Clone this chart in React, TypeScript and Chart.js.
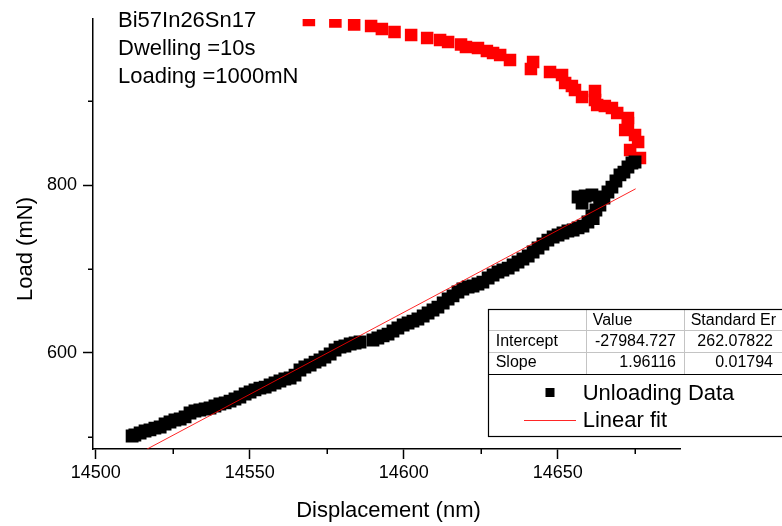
import { useEffect, useRef } from "react";
import { Chart, registerables } from "chart.js";

Chart.register(...registerables);

const FONT = '"Liberation Sans", Arial, Helvetica, sans-serif';

// Unloading data (black squares)
const unloadX = [
  14511.8, 14512.7, 14514.4, 14516.0, 14517.6, 14519.2, 14520.9, 14522.5, 14524.1, 14525.7,
  14527.4, 14529.0, 14530.6, 14532.2, 14533.8, 14535.5, 14537.1, 14538.7, 14540.3, 14542.0,
  14543.6, 14545.2, 14546.8, 14548.5, 14550.1, 14551.7, 14553.3, 14555.0, 14556.6, 14558.2,
  14559.8, 14561.4, 14563.1, 14564.7, 14566.3, 14567.9, 14569.6, 14571.2, 14572.8, 14574.4,
  14576.1, 14577.7, 14579.3, 14580.9, 14582.6, 14584.2, 14585.8, 14590.0, 14591.6, 14593.3,
  14594.9, 14596.5, 14598.1, 14599.8, 14601.4, 14603.0, 14604.6, 14606.3, 14607.9, 14609.5,
  14611.1, 14612.8, 14614.4, 14616.0, 14617.6, 14619.2, 14620.9, 14622.5, 14624.1, 14625.7,
  14627.4, 14629.0, 14630.6, 14632.2, 14633.9, 14635.5, 14637.1, 14638.7, 14640.4, 14642.0,
  14643.6, 14645.2, 14646.8, 14648.5, 14650.1, 14651.7, 14653.3, 14655.0, 14656.6, 14658.2,
  14659.8, 14661.1, 14662.4, 14663.7, 14656.6, 14658.9, 14661.1, 14665.0, 14666.3, 14667.6,
  14668.9, 14670.2, 14671.5, 14672.8, 14674.1, 14675.1, 14663.7, 14657.9, 14661.5,
];
const unloadY = [
  500.7, 501.9, 504.3, 506.7, 507.9, 510.2, 511.4, 515.0, 517.4, 519.8,
  521.0, 523.4, 528.1, 530.5, 531.7, 532.9, 534.1, 536.5, 538.9, 540.1,
  542.4, 544.8, 547.2, 550.8, 553.2, 555.6, 557.9, 559.1, 561.5, 563.9,
  566.3, 568.7, 569.9, 573.4, 579.4, 583.0, 585.4, 588.9, 591.3, 594.9,
  598.5, 603.3, 606.8, 608.0, 610.4, 611.6, 612.8, 615.2, 617.6, 620.0,
  622.3, 625.9, 629.5, 633.1, 635.5, 637.8, 640.2, 643.8, 647.4, 651.0,
  654.5, 659.3, 664.1, 667.7, 672.4, 676.0, 678.4, 679.6, 682.0, 684.3,
  689.1, 692.7, 696.3, 698.7, 701.0, 704.6, 708.2, 711.8, 715.4, 720.1,
  724.9, 729.7, 734.4, 738.0, 740.4, 742.8, 745.2, 746.4, 748.8, 751.1,
  755.9, 763.1, 770.2, 776.2, 785.7, 786.9, 788.1, 784.5, 791.7, 797.6,
  804.8, 812.0, 815.5, 821.5, 826.3, 827.5, 785.7, 778.6, 760.0,
];

// Loading / holding segment (red squares)
const holdX = [
  14569.2, 14577.8, 14583.9, 14589.4, 14592.9, 14597.0, 14602.4, 14607.6, 14611.8, 14614.4,
  14618.6, 14620.2, 14624.1, 14627.0, 14629.0, 14631.3, 14634.5, 14642.0, 14641.3, 14647.5,
  14651.4, 14652.4, 14654.6, 14655.6, 14657.9, 14662.1, 14662.1, 14662.8, 14665.3, 14667.6,
  14669.3, 14672.8, 14672.8, 14671.9, 14675.1, 14676.1, 14673.5, 14676.7,
];
const holdY = [
  996.8, 995.0, 991.4, 989.7, 986.1, 982.5, 978.9, 975.3, 973.0, 970.6,
  967.6, 964.6, 963.4, 959.8, 957.5, 955.1, 949.1, 946.7, 938.4, 934.8,
  931.2, 921.7, 918.1, 913.3, 905.0, 912.1, 901.4, 895.4, 894.2, 891.9,
  885.9, 879.9, 874.0, 865.6, 859.7, 851.3, 841.8, 832.2,
];

// Linear fit line end points
const fitX = [14516.5, 14675.3];
const fitY = [484.8, 795.5];

const xMajorTicks = [14500, 14550, 14600, 14650];
const xMinorTicks = [14525, 14575, 14625, 14675];
const yMajorTicks = [600, 800];
const yMinorTicks = [500, 700, 900];

const annotationLines = ["Bi57In26Sn17", "Dwelling =10s", "Loading =1000mN"];
const tableHeader = ["", "Value", "Standard Er"];
const tableRows = [
  ["Intercept", "-27984.727", "262.07822"],
  ["Slope", "1.96116", "0.01794"],
];
const legendLabels = ["Unloading Data", "Linear fit"];
const xTitle = "Displacement (nm)";
const yTitle = "Load (mN)";

const overlayPlugin = {
  id: "overlay",
  afterDraw(chart: any) {
    const ctx: CanvasRenderingContext2D = chart.ctx;
    const area = chart.chartArea;
    const xs = chart.scales.x;
    const ys = chart.scales.y;
    ctx.save();

    // minor ticks
    ctx.strokeStyle = "#000";
    ctx.lineWidth = 1.5;
    xMinorTicks.forEach((v) => {
      const p = Math.round(xs.getPixelForValue(v)) + 0.25;
      ctx.beginPath();
      ctx.moveTo(p, area.bottom);
      ctx.lineTo(p, area.bottom + 5);
      ctx.stroke();
    });
    yMinorTicks.forEach((v) => {
      const p = Math.round(ys.getPixelForValue(v)) + 0.25;
      ctx.beginPath();
      ctx.moveTo(area.left, p);
      ctx.lineTo(area.left - 5, p);
      ctx.stroke();
    });

    // axis titles
    ctx.fillStyle = "#000";
    ctx.font = `22px ${FONT}`;
    ctx.textBaseline = "alphabetic";
    ctx.textAlign = "center";
    ctx.fillText(xTitle, (area.left + area.right) / 2 + 2, 516.7);
    ctx.save();
    ctx.translate(31.7, 249);
    ctx.rotate(-Math.PI / 2);
    ctx.fillText(yTitle, 0, 0);
    ctx.restore();

    // annotation text
    ctx.textAlign = "left";
    annotationLines.forEach((t, i) => {
      ctx.fillText(t, 118, 26.7 + i * 28.3);
    });

    // fit table + legend box
    const L = 488, T = 309, R = 800, B = 436;
    ctx.fillStyle = "#fff";
    ctx.fillRect(L, T, R - L, B - T);
    ctx.strokeStyle = "#c4c4c4";
    ctx.lineWidth = 1;
    [330.5, 352.5].forEach((y) => {
      ctx.beginPath();
      ctx.moveTo(L, y);
      ctx.lineTo(R, y);
      ctx.stroke();
    });
    [586.5, 684.5].forEach((x) => {
      ctx.beginPath();
      ctx.moveTo(x, T);
      ctx.lineTo(x, 374);
      ctx.stroke();
    });
    ctx.strokeStyle = "#000";
    ctx.lineWidth = 1.2;
    ctx.beginPath();
    ctx.moveTo(L, 374.5);
    ctx.lineTo(R, 374.5);
    ctx.stroke();
    ctx.strokeRect(L + 0.5, T + 0.5, R - L, B - T);

    ctx.fillStyle = "#000";
    ctx.font = `16px ${FONT}`;
    ctx.textAlign = "left";
    ctx.fillText(tableHeader[1], 592.7, 325);
    ctx.fillText(tableHeader[2], 690.7, 325);
    tableRows.forEach((row, i) => {
      const by = 345.5 + i * 21.5;
      ctx.textAlign = "left";
      ctx.fillText(row[0], 495.7, by);
      ctx.textAlign = "right";
      ctx.fillText(row[1], 676, by);
      ctx.fillText(row[2], 773, by);
    });

    // legend entries
    ctx.fillStyle = "#000";
    ctx.fillRect(545.5, 388, 9, 9);
    ctx.strokeStyle = "rgba(255,0,0,0.85)";
    ctx.lineWidth = 1;
    ctx.beginPath();
    ctx.moveTo(524, 420.5);
    ctx.lineTo(576, 420.5);
    ctx.stroke();
    ctx.font = `22px ${FONT}`;
    ctx.textAlign = "left";
    ctx.fillText(legendLabels[0], 582.7, 400);
    ctx.fillText(legendLabels[1], 582.7, 426.7);

    ctx.restore();
  },
};

export default function App() {
  const ref = useRef<HTMLCanvasElement | null>(null);

  useEffect(() => {
    const canvas = ref.current;
    if (!canvas) return;
    const chart = new Chart(canvas, {
      type: "scatter",
      data: {
        datasets: [
          {
            type: "line",
            label: legendLabels[1],
            data: fitX.map((x, i) => ({ x, y: fitY[i] })),
            borderColor: "rgba(255,0,0,0.85)",
            borderWidth: 1,
            pointRadius: 0,
            fill: false,
            order: 0,
            clip: 0,
          } as any,
          {
            label: legendLabels[0],
            data: unloadX.map((x, i) => ({ x, y: unloadY[i] })),
            pointStyle: "rect",
            pointRadius: 8,
            backgroundColor: "#000",
            borderColor: "#000",
            borderWidth: 1.5,
            order: 1,
            clip: 0,
          } as any,
          {
            label: "Hold",
            data: holdX.map((x, i) => ({ x, y: holdY[i] })),
            pointStyle: "rect",
            pointRadius: 7.8,
            backgroundColor: "#ff0000",
            borderColor: "#ff0000",
            borderWidth: 1.5,
            order: 2,
            clip: 0,
          } as any,
        ],
      },
      options: {
        responsive: false,
        animation: false,
        devicePixelRatio: 1,
        layout: { padding: { left: 0, right: 102, top: 19, bottom: 0 } },
        plugins: {
          legend: { display: false },
          tooltip: { enabled: false },
          title: { display: false },
        },
        scales: {
          x: {
            type: "linear",
            min: 14499.1,
            max: 14689.7,
            afterBuildTicks: (s: any) => {
              s.ticks = xMajorTicks.map((v) => ({ value: v }));
            },
            afterFit: (s: any) => {
              s.height = 77;
            },
            grid: {
              drawOnChartArea: false,
              drawTicks: true,
              tickLength: 10,
              tickColor: "#000",
              tickWidth: 1.5,
            },
            border: { display: true, color: "#000", width: 1.5 },
            ticks: {
              color: "#000",
              font: { family: FONT, size: 18 },
              padding: 3,
              maxRotation: 0,
              autoSkip: false,
              callback: (v: any) => String(v),
            },
          },
          y: {
            type: "linear",
            min: 485.2,
            max: 998,
            afterBuildTicks: (s: any) => {
              s.ticks = yMajorTicks.map((v) => ({ value: v }));
            },
            afterFit: (s: any) => {
              s.width = 93;
            },
            grid: {
              drawOnChartArea: false,
              drawTicks: true,
              tickLength: 10,
              tickColor: "#000",
              tickWidth: 1.5,
            },
            border: { display: true, color: "#000", width: 1.5 },
            ticks: {
              color: "#000",
              font: { family: FONT, size: 18 },
              padding: 6,
              autoSkip: false,
              callback: (v: any) => String(v),
            },
          },
        },
      } as any,
      plugins: [overlayPlugin],
    });
    return () => chart.destroy();
  }, []);

  return (
    <div style={{ position: "fixed", left: 0, top: 0, width: 782, height: 526, background: "#fff" }}>
      <canvas ref={ref} width={782} height={526} style={{ display: "block", width: 782, height: 526 }} />
    </div>
  );
}
